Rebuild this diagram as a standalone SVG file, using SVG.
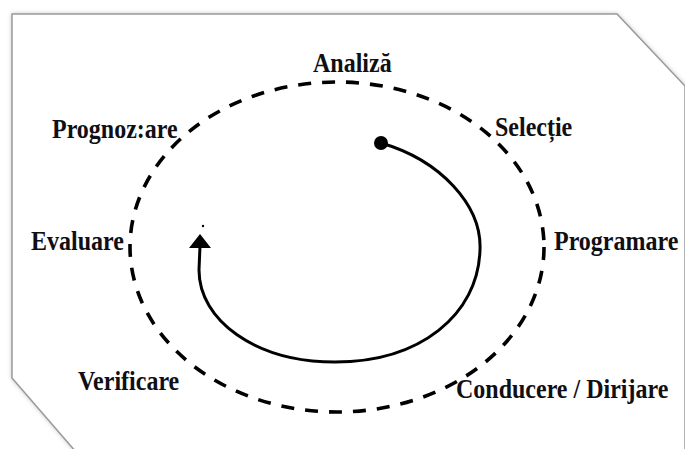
<svg xmlns="http://www.w3.org/2000/svg" width="685" height="449" viewBox="0 0 685 449">
  <defs>
    <style>
      .lbl { font-family: "Liberation Serif", "Times New Roman", serif; font-weight: bold; font-size: 24px; fill: #0f0f14; }
      .dash { fill: none; stroke: #000; stroke-width: 3.6; stroke-dasharray: 13 11; }
      .flow { fill: none; stroke: #000; stroke-width: 3; }
    </style>
    <filter id="sh" x="-5%" y="-5%" width="110%" height="110%">
      <feGaussianBlur stdDeviation="2.5"/>
    </filter>
  </defs>
  <rect x="0" y="0" width="685" height="449" fill="#ffffff"/>
  <g id="frame">
    <polygon points="12,14 617,14 685,86 685,460 83,460 12,378" fill="#b8b8b8" filter="url(#sh)"/>
    <polygon points="12,14 617,14 685,86 685,460 83,460 12,378" fill="#ffffff" stroke="#9a9a9a" stroke-width="1.5"/>
  </g>
  <g id="connectors">
    <ellipse cx="337" cy="247" rx="207" ry="165" class="dash"/>
    <path class="flow" d="M381,143 C440,160 482,205 480,250 C478,315 420,362 335,362 C255,362 199,320 199,270 L200,246"/>
    <circle cx="381" cy="143" r="7" fill="#000"/>
    <polygon points="200,234 189,248 211,248" fill="#000"/>
    <circle cx="203" cy="226" r="1.2" fill="#000"/>
  </g>
  <g id="n-analiza"><text class="lbl" transform="translate(313,72) scale(1,1.12)">Analiză</text></g>
  <g id="n-selectie"><text class="lbl" transform="translate(495,136) scale(1,1.12)">Selecție</text></g>
  <g id="n-programare"><text class="lbl" transform="translate(554,250) scale(1,1.12)">Programare</text></g>
  <g id="n-conducere"><text class="lbl" transform="translate(456,398) scale(1,1.12)">Conducere / Dirijare</text></g>
  <g id="n-verificare"><text class="lbl" transform="translate(78,390) scale(1,1.12)">Verificare</text></g>
  <g id="n-evaluare"><text class="lbl" transform="translate(31,250) scale(1,1.12)">Evaluare</text></g>
  <g id="n-prognozare"><text class="lbl" transform="translate(52,138) scale(1,1.12)">Prognoz:are</text></g>
</svg>
